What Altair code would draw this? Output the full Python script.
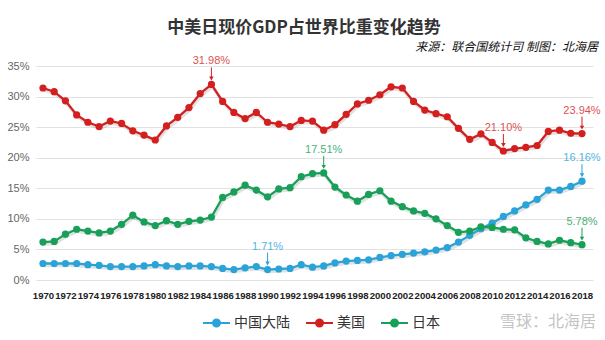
import altair as alt
import pandas as pd

# ---------------- data ----------------
years = list(range(1970, 2019))
series_names = ["中国大陆", "美国", "日本"]
series_colors = ["#2aa3d8", "#d41f1f", "#18a058"]

china = [2.7, 2.7, 2.7, 2.7, 2.5, 2.4, 2.2, 2.2, 2.2, 2.3,
         2.5, 2.3, 2.2, 2.3, 2.3, 2.2, 1.9, 1.7, 2.0, 2.2,
         1.71, 1.8, 1.9, 2.5, 2.1, 2.3, 2.8, 3.1, 3.2, 3.3,
         3.7, 4.0, 4.2, 4.4, 4.6, 4.9, 5.3, 6.2, 7.3, 8.4,
         9.3, 10.4, 11.3, 12.3, 13.2, 14.7, 14.7, 15.3, 16.16]
us = [31.4, 30.8, 29.3, 27.0, 25.8, 25.1, 26.0, 25.6, 24.4, 23.7,
      22.9, 25.2, 26.6, 28.2, 30.5, 31.98, 29.2, 27.4, 26.4, 27.4,
      25.8, 25.5, 25.1, 26.1, 26.0, 24.5, 25.4, 27.1, 28.8, 29.4,
      30.3, 31.6, 31.4, 29.2, 27.8, 27.2, 26.7, 24.8, 23.0, 23.9,
      22.5, 21.10, 21.5, 21.7, 22.0, 24.3, 24.5, 24.0, 23.94]
japan = [6.2, 6.3, 7.5, 8.3, 8.0, 7.7, 8.0, 9.1, 10.6, 9.5,
         8.9, 9.7, 9.1, 9.6, 9.8, 10.3, 13.5, 14.4, 15.5, 14.7,
         13.6, 14.9, 15.1, 16.9, 17.4, 17.51, 15.2, 13.9, 12.9, 14.0,
         14.6, 12.9, 12.0, 11.3, 10.9, 10.0, 8.9, 7.8, 8.0, 8.7,
         8.6, 8.3, 8.2, 6.9, 6.3, 5.9, 6.5, 6.1, 5.78]

x_ticks = list(range(1970, 2019, 2))
y_ticks = [0, 5, 10, 15, 20, 25, 30, 35]

ann_years = [1985, 1990, 1995, 2011, 2018, 2018, 2018]
ann_series = ["美国", "中国大陆", "日本", "美国", "美国", "中国大陆", "日本"]
ann_values = [31.98, 1.71, 17.51, 21.10, 23.94, 16.16, 5.78]

title_text = "中美日现价GDP占世界比重变化趋势"
source_text = "来源：联合国统计司 制图：北海居"
watermark_text = "雪球：北海居"

# ---------------- tables ----------------
rows = []
for name, vals in zip(series_names, [china, us, japan]):
    for yr, v in zip(years, vals):
        rows.append({"year": yr, "series": name, "value": v})
df = pd.DataFrame(rows)

ann = pd.DataFrame({
    "year": ann_years,
    "series": ann_series,
    "value": ann_values,
    "label": [f"{v:.2f}%" for v in ann_values],
})

CJK = "Noto Sans CJK SC"
SANS = "Liberation Sans, Arial, sans-serif"

x_scale = alt.Scale(domain=[1969.38, 2018.98], nice=False, zero=False)
y_scale = alt.Scale(domain=[0, 35], nice=False)

x_enc = alt.X(
    "year:Q", scale=x_scale,
    axis=alt.Axis(
        values=x_ticks, format="d", title=None, grid=False, domain=False,
        ticks=False, labelFont=SANS, labelFontWeight="bold",
        labelFontSize=9.6, labelColor="#222",
        labelPadding=10, labelOverlap=False, labelFlush=False,
    ),
)
y_enc = alt.Y(
    "value:Q", scale=y_scale,
    axis=alt.Axis(
        values=y_ticks, labelExpr="datum.value + '%'", title=None,
        domain=False, ticks=False, gridColor="#e2e2e2", gridWidth=1,
        labelFont=SANS, labelFontSize=11, labelColor="#666",
        labelPadding=7, labelOverlap=False,
    ),
)
color_scale = alt.Scale(domain=series_names, range=series_colors)

legend_symbol = ("M-1,0L1,0M-0.26,0A0.26,0.26 0 1,0 0.26,0"
                 "A0.26,0.26 0 1,0 -0.26,0")

color_legend = alt.Color(
    "series:N", scale=color_scale,
    legend=alt.Legend(
        title=None, orient="none", legendX=166, legendY=242,
        direction="horizontal", symbolType=legend_symbol, symbolSize=729,
        symbolStrokeWidth=2, labelFont=CJK, labelFontSize=14,
        labelColor="#333", columnPadding=12, labelOffset=3,
    ),
)
color_plain = alt.Color("series:N", scale=color_scale, legend=None)

base = alt.Chart(df)

shadow = base.mark_line(
    color="#777", opacity=0.22, strokeWidth=3.5, xOffset=1, yOffset=2
).encode(x=x_enc, y=y_enc, detail="series:N")

lines = base.mark_line(strokeWidth=2.3).encode(x=x_enc, y=y_enc, color=color_legend)

points = base.mark_circle(size=52, opacity=1).encode(
    x=x_enc, y=y_enc, color=color_plain
)

ann_base = alt.Chart(ann)
ann_text = ann_base.mark_text(
    dy=-23, fontSize=11, font=SANS, opacity=0.8
).encode(x=x_enc, y=y_enc, text="label:N", color=color_plain)

ann_rule = ann_base.mark_rule(strokeWidth=1, yOffset=-17, y2Offset=-7).encode(
    x=x_enc, y=y_enc, y2=alt.Y2("value:Q"), color=color_plain
)
ann_head = ann_base.mark_point(
    shape="triangle-down", filled=True, size=20, yOffset=-6, opacity=1
).encode(x=x_enc, y=y_enc, color=color_plain)

txt_df = pd.DataFrame({"t": [title_text], "s": [source_text], "w": [watermark_text]})
txt_base = alt.Chart(txt_df)

title = txt_base.mark_text(
    font=CJK, fontSize=17, fontWeight="bold", color="#333",
    align="center", baseline="middle",
).encode(text="t:N", x=alt.value(268), y=alt.value(-38))

source = txt_base.mark_text(
    font=CJK, fontSize=12, fontStyle="italic", color="#111",
    align="right", baseline="middle",
).encode(text="s:N", x=alt.value(562), y=alt.value(-19))

watermark = txt_base.mark_text(
    font=CJK, fontSize=16, color="#c4c4c4", align="right", baseline="middle",
).encode(text="w:N", x=alt.value(560), y=alt.value(256))

chart = alt.layer(
    shadow, lines, points, ann_rule, ann_head, ann_text, title, source, watermark
).properties(
    width=557, height=214,
    autosize=alt.AutoSizeParams(type="none"),
    padding={"left": 36, "top": 66, "right": 12, "bottom": 60},
    background="white",
).configure_view(stroke=None)

chart.save("out.html", embed_options={"renderer": "svg", "actions": False})
